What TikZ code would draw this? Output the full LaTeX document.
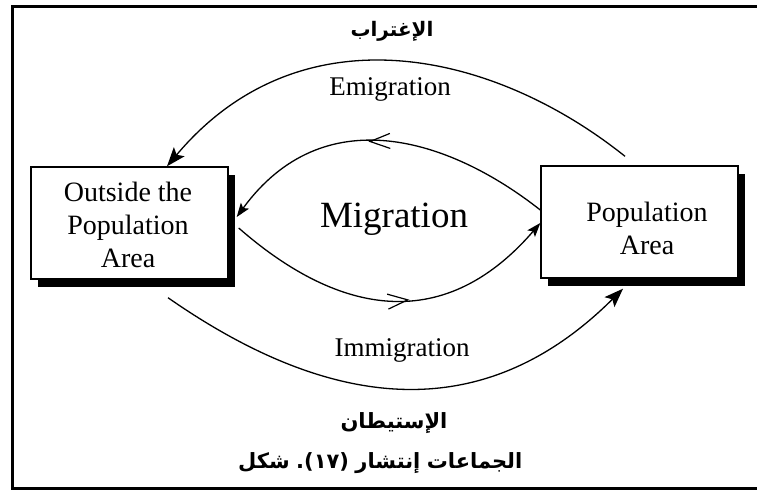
\documentclass[tikz,border=0pt]{standalone}
\usepackage{fontspec}
\setmainfont{Liberation Serif}
\newfontfamily\arabicfont[Script=Arabic]{DejaVu Sans}
\usetikzlibrary{arrows.meta,calc,shadows,decorations.markings}

\begin{document}
\begin{tikzpicture}[x=1pt,y=-1pt,
  areabox/.style={draw,line width=1.4pt,fill=white,
    minimum width=197pt,minimum height=112pt,inner sep=0pt,
    general shadow={fill=black,shadow xshift=7pt,shadow yshift=-8pt}},
  boxtext/.style={inner sep=0pt,align=center,font=\fontsize{28}{33}\selectfont},
  flowlabel/.style={anchor=base,inner sep=0pt,font=\fontsize{27}{30}\selectfont},
  arlabel/.style={inner sep=0pt,font=\arabicfont\bfseries\fontsize{20}{24}\selectfont},
  capword/.style={arlabel,anchor=base west,font=\arabicfont\bfseries\fontsize{21}{25}\selectfont},
  flow/.style={line width=1.3pt},
  bigtip/.style={-{Stealth[length=19pt,width=14pt,inset=4pt]}},
  smalltip/.style={-{Stealth[length=14pt,width=10pt,inset=3pt]}},
  midarrow/.style={postaction={decorate},decoration={markings,
    mark=at position #1 with {\arrow{Straight Barb[length=20pt,width=15pt,line width=1.2pt]}}}}
]
\useasboundingbox (0,0) rectangle (757,490);

% outer frame (open on the right)
\draw[line width=3pt] (757,6.5) -- (12.5,6.5) -- (12.5,488.5) -- (757,488.5);

% the two areas
\node[areabox] (outside) at (129.5,223) {};
\node[boxtext] (outsideText) at (128,225) {Outside the\\Population\\Area};
\node[areabox] (popArea) at (639.5,222) {};
\node[boxtext] (popAreaText) at (647,228) {Population\\Area};

% centre title
\node[flowlabel,font=\fontsize{37}{40}\selectfont] (migration) at (394,227) {Migration};

% end points of the flows
\coordinate (emiStart) at ($(popArea.north)+(-14.5,-9)$);
\coordinate (emiEnd)   at ($(outside.north)+(37.5,0)$);
\coordinate (inTopStart) at ($(popArea.west)+(0,-12)$);
\coordinate (inTopEnd)   at ($(outside.east)+(8,-6)$);
\coordinate (inBotStart) at ($(outside.east)+(10,5)$);
\coordinate (inBotEnd)   at ($(popArea.west)+(0,1)$);
\coordinate (immStart) at ($(outside.south)+(38.5,18)$);
\coordinate (immEnd)   at ($(popArea.south)+(-16.5,10)$);

% emigration (outer, upper)
\draw[flow,bigtip] (emiStart) .. controls (492,50) and (300,8) .. (emiEnd);
% immigration (outer, lower)
\draw[flow,bigtip] (immStart) .. controls (340.5,417.9) and (489.2,421.8) .. (immEnd);
% inner loop
\draw[flow,smalltip,midarrow=0.545] (inTopStart) .. controls (449.3,138.3) and (323.4,98.1) .. (inTopEnd);
\draw[flow,smalltip,midarrow=0.55] (inBotStart) .. controls (332.6,310.2) and (439.8,339.5) .. (inBotEnd);

% flow labels
\node[flowlabel] (emiLabel) at (390,95) {Emigration};
\node[flowlabel] (immLabel) at (402,356) {Immigration};

% Arabic labels
\node[arlabel] (emiAr) at (392,31) {الإغتراب};
\node[arlabel,font=\arabicfont\bfseries\fontsize{21}{25}\selectfont] (immAr) at (394,423) {الإستيطان};

% caption, set word by word from left to right
\node[capword] (capFig)   at (238,468) {شكل};
\node[capword] (capNum)   at ($(capFig.base east)+(6,0)$) {(١٧).};
\node[capword] (capVerb)  at ($(capNum.base east)+(6,0)$) {إنتشار};
\node[capword] (capGroup) at ($(capVerb.base east)+(6,0)$) {الجماعات};
\end{tikzpicture}
\end{document}
